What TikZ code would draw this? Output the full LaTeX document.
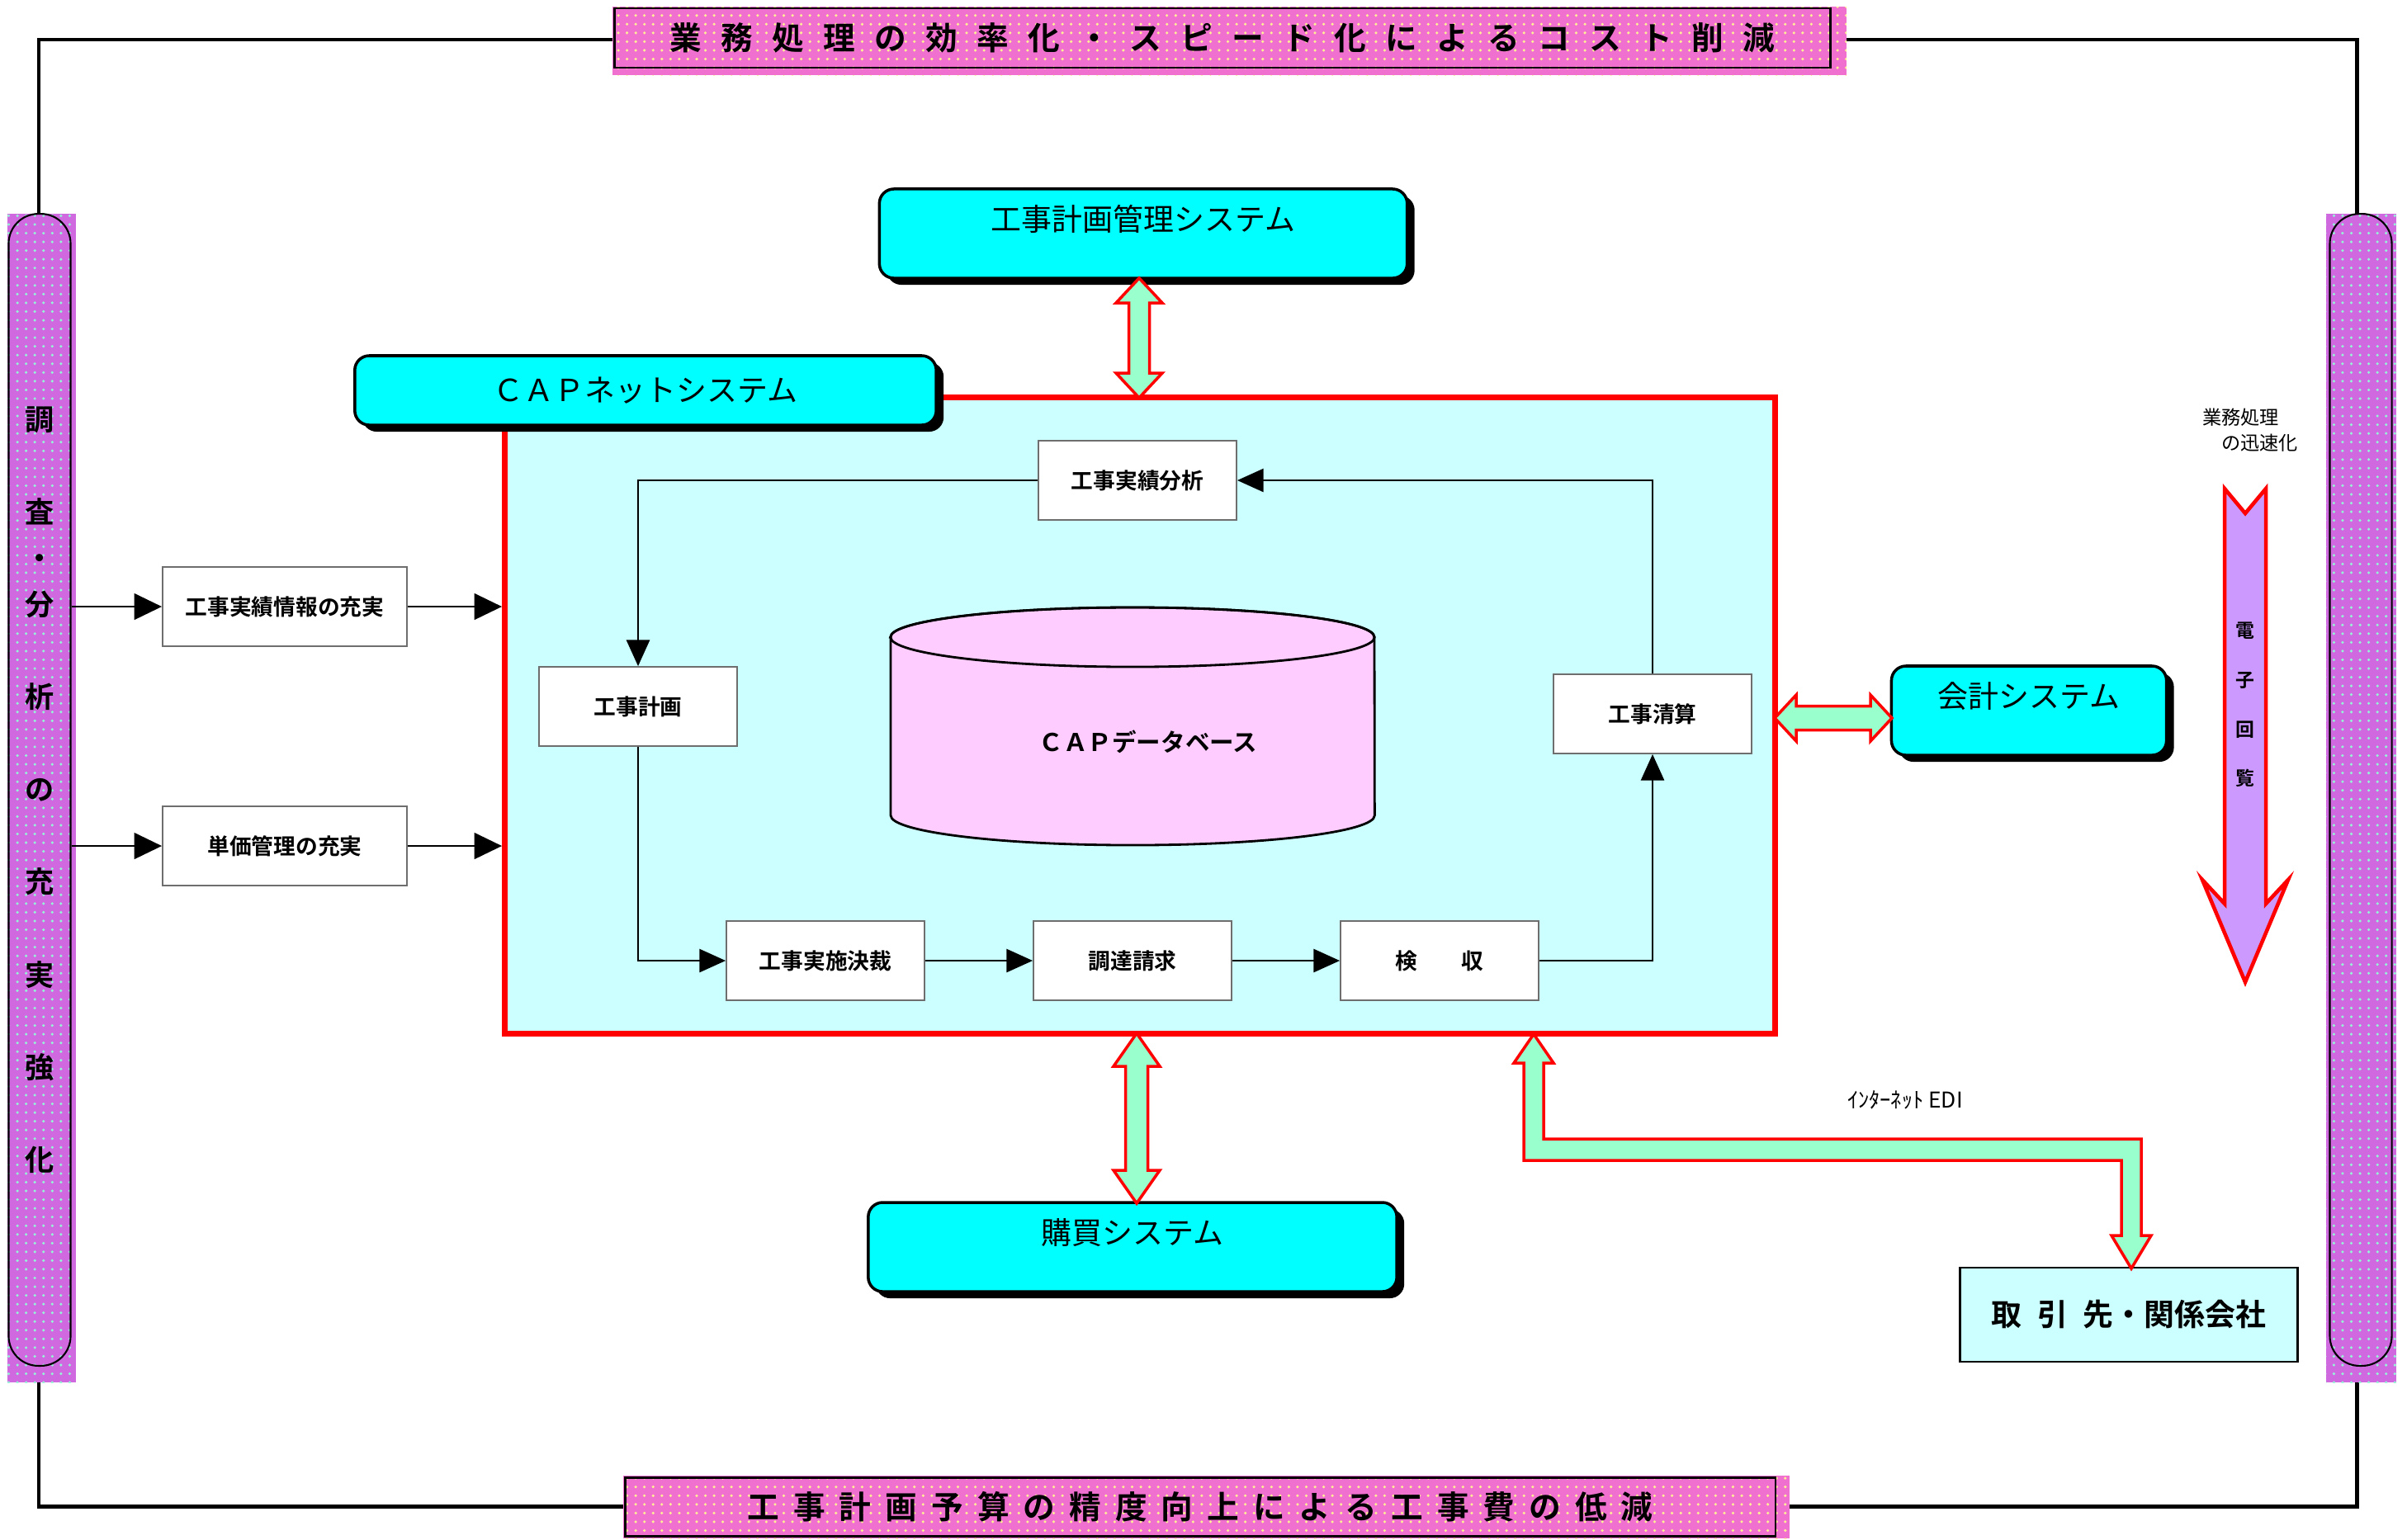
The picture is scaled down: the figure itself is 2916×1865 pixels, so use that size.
\documentclass[tikz,border=0pt]{standalone}
\usepackage{fontspec}
\setmainfont{Noto Sans CJK JP}[BoldFont={Noto Sans CJK JP Bold}]
\usetikzlibrary{arrows.meta,patterns,shadows}

\definecolor{syscyan}{RGB}{0,255,255}
\definecolor{capbg}{RGB}{204,255,255}
\definecolor{dbpink}{RGB}{255,204,255}
\definecolor{mint}{RGB}{153,255,204}
\definecolor{lavender}{RGB}{204,153,255}
\definecolor{bannerpink}{RGB}{240,112,208}
\definecolor{barviolet}{RGB}{208,104,224}
\definecolor{dotyellow}{RGB}{255,240,150}
\definecolor{dotgreen}{RGB}{150,245,215}
\definecolor{boxgray}{RGB}{110,110,110}

\begin{document}
\begin{tikzpicture}[x=0.01cm,y=-0.01cm,>={Triangle[length=9pt,width=8pt]},thick]
  \tikzstyle{sysbox}=[draw, fill=syscyan, line width=1pt, rounded corners=5pt,
    drop shadow={shadow xshift=.09cm, shadow yshift=-.08cm, fill=black, opacity=1},
    font=\fontsize{10.5pt}{12pt}\selectfont]
  \tikzstyle{tallsys}=[sysbox, minimum height=1.08cm, text height=8pt, text depth=10pt]
  \tikzstyle{proc}=[draw=boxgray, fill=white, line width=.5pt, minimum width=2.4cm, minimum height=.96cm,
    font=\bfseries\fontsize{7.6pt}{9pt}\selectfont]
  \tikzstyle{goal}=[proc, minimum width=2.96cm]
  \tikzstyle{flow}=[->, line width=.6pt]
  \tikzstyle{side}=[->, >={Triangle[length=9.5pt,width=9pt]}, line width=.8pt]
  \tikzstyle{fat}=[draw=red, fill=mint, line width=1pt, line join=miter]
  \tikzstyle{bannerfill}=[preaction={fill=bannerpink}, pattern=dots, pattern color=dotyellow]
  \tikzstyle{barfill}=[preaction={fill=barviolet}, pattern=dots, pattern color=dotgreen]
  \tikzstyle{banner}=[draw, line width=.8pt, inner sep=0pt]
  \tikzstyle{sidebar}=[draw, line width=.6pt, rounded corners=.36cm, minimum width=.75cm,
    minimum height=13.95cm, align=center, font=\bfseries\fontsize{10pt}{31.9pt}\selectfont]

  \useasboundingbox (0,0) rectangle (2916,1865);

  % outer frame
  \draw[line width=1.4pt] (47,48) rectangle (2855,1825);

  % banners
  \fill[bannerfill] (742,8) rectangle (2237,91);
  \node[banner, minimum width=14.72cm, minimum height=.72cm,
    font={\bfseries\fontsize{11pt}{13pt}\selectfont\spaceskip=.6em\relax}] (kosuto) at (1481,46)
    {業 務 処 理 の 効 率 化 ・ ス ピ ー ド 化 に よ る コ ス ト 削 減};
  \fill[bannerfill] (755,1788) rectangle (2168,1864);
  \node[banner, minimum width=13.93cm, minimum height=.71cm,
    font={\bfseries\fontsize{11pt}{13pt}\selectfont\spaceskip=.44em\relax}] (kojihi) at (1454,1826)
    {工 事 計 画 予 算 の 精 度 向 上 に よ る 工 事 費 の 低 減};

  % side bars
  \fill[barfill] (9,259) rectangle (92,1675);
  \node[sidebar] (chosa) at (48,957)
    {調\\査\\[-16pt]・\\[-16pt]分\\析\\の\\充\\実\\強\\化};
  \fill[barfill] (2818,259) rectangle (2903,1675);
  \node[sidebar] (migi) at (2860,957) {};

  % CAP net system
  \node[draw=red, fill=capbg, line width=2pt, minimum width=15.38cm, minimum height=7.7cm] (cap) at (1381,867) {};

  \filldraw[fill=dbpink, draw=black, line width=.8pt] (1079,772) -- (1079,988)
    arc[start angle=180, end angle=360, x radius=2.93cm, y radius=.36cm] -- (1665,772)
    arc[start angle=0, end angle=180, x radius=2.93cm, y radius=.36cm] -- cycle;
  \draw[line width=.8pt] (1372,772) ellipse [x radius=2.93cm, y radius=.36cm];
  \node[font=\bfseries\fontsize{8.4pt}{10pt}\selectfont] (db) at (1391,899) {ＣＡＰデータベース};

  \node[proc] (bunseki) at (1378,582) {工事実績分析};
  \node[proc] (plan) at (773,856) {工事計画};
  \node[proc] (seisan) at (2002,865) {工事清算};
  \node[proc] (kessai) at (1000,1164) {工事実施決裁};
  \node[proc] (chotatsu) at (1372,1164) {調達請求};
  \node[proc] (kensyu) at (1744,1164) {検　　収};

  \draw[flow] (bunseki.west) -| (plan.north);
  \draw[flow] (plan.south) |- (kessai.west);
  \draw[flow] (kessai) -- (chotatsu);
  \draw[flow] (chotatsu) -- (kensyu);
  \draw[flow] (kensyu.east) -| (seisan.south);
  \draw[flow] (seisan.north) |- (bunseki.east);

  \node[sysbox, minimum width=7.04cm, minimum height=.84cm] (capnet) at (782,473) {ＣＡＰネットシステム};

  % inputs on the left
  \node[goal] (jisseki) at (345,735) {工事実績情報の充実};
  \node[goal] (tanka) at (345,1025) {単価管理の充実};
  \draw[side] (chosa.east |- jisseki.west) -- (jisseki.west);
  \draw[side] (jisseki.east) -- (jisseki.east -| cap.west);
  \draw[side] (chosa.east |- tanka.west) -- (tanka.west);
  \draw[side] (tanka.east) -- (tanka.east -| cap.west);

  % other systems
  \node[tallsys, minimum width=6.39cm] (keikaku) at (1385,283) {工事計画管理システム};
  \node[tallsys, minimum width=3.33cm] (kaikei) at (2458,861) {会計システム};
  \node[tallsys, minimum width=6.40cm] (kobai) at (1372,1511) {購買システム};

  \draw[fat] (1380,337) -- ++(28,30) -- ++(-15.5,0) -- ++(0,85) -- ++(15.5,0) -- (1380,482)
    -- ++(-28,-30) -- ++(15.5,0) -- ++(0,-85) -- ++(-15.5,0) -- cycle;
  \draw[fat] (1377,1252) -- ++(28,40) -- ++(-14.5,0) -- ++(0,126) -- ++(14.5,0) -- (1377,1458)
    -- ++(-28,-40) -- ++(14.5,0) -- ++(0,-126) -- ++(-14.5,0) -- cycle;
  \draw[fat] (2150,870) -- ++(26,-28) -- ++(0,13.5) -- ++(90,0) -- ++(0,-13.5) -- (2292,870)
    -- ++(-26,28) -- ++(0,-13.5) -- ++(-90,0) -- ++(0,13.5) -- cycle;

  % partners via EDI
  \node[draw, fill=capbg, line width=.8pt, minimum width=4.09cm, minimum height=1.14cm,
    font={\bfseries\fontsize{10.5pt}{12pt}\selectfont\spaceskip=.5em\relax}] (torihiki) at (2579,1593)
    {取 引 先・関係会社};
  \draw[fat] (1858,1253) -- (1882,1288) -- (1870,1288) -- (1870,1380) -- (2594,1380) -- (2594,1497)
    -- (2606,1497) -- (2582,1537) -- (2558,1497) -- (2570,1497) -- (2570,1406) -- (1846,1406)
    -- (1846,1288) -- (1834,1288) -- cycle;
  \node[font=\fontsize{7.5pt}{9pt}\selectfont] (edi) at (2308,1333) {ｲﾝﾀｰﾈｯﾄ EDI};

  % circulation
  \node[align=left, inner sep=0pt, font=\fontsize{6.6pt}{8.8pt}\selectfont] (jinsoku) at (2726,521)
    {業務処理\\　の迅速化};
  \draw[draw=red, fill=lavender, line width=1.3pt, line join=miter] (2695,592) -- (2720,622) -- (2745,592)
    -- (2745,1095) -- (2772,1066) -- (2720,1190) -- (2668,1066) -- (2695,1095) -- cycle;
  \node[align=center, inner sep=0pt, font=\bfseries\fontsize{6.5pt}{17pt}\selectfont] (kairan) at (2720,854)
    {電\\子\\回\\覧};
\end{tikzpicture}
\end{document}
